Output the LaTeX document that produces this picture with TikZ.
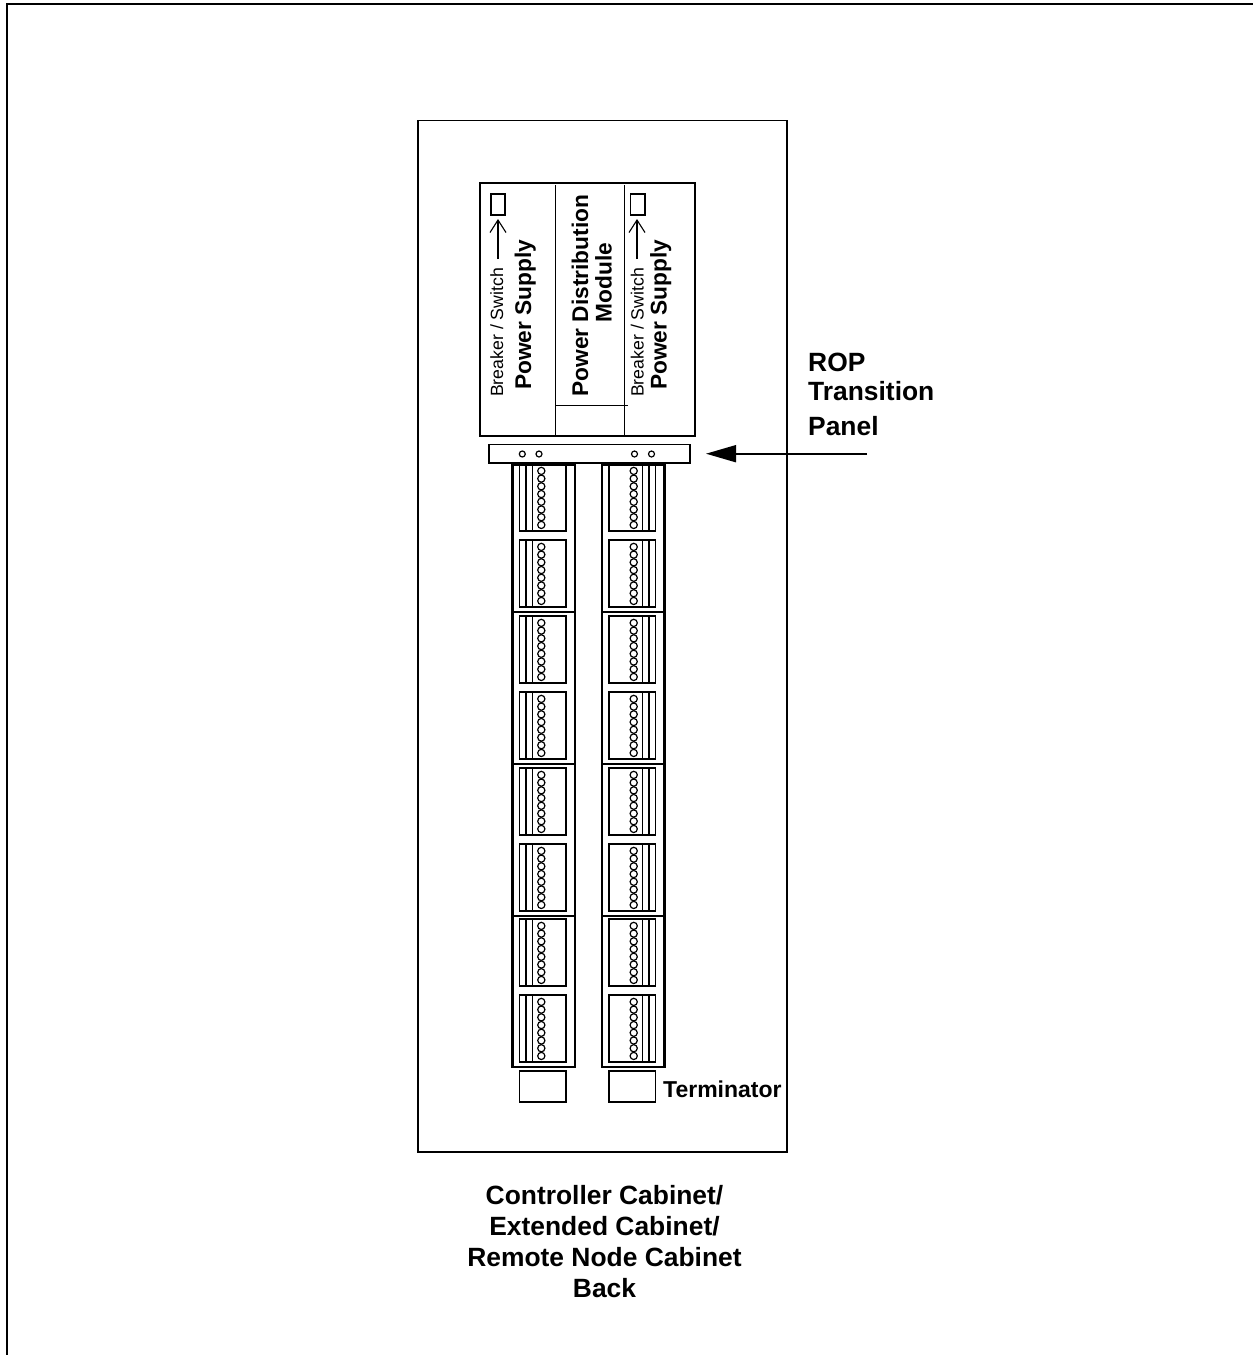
\documentclass[tikz,border=0pt]{standalone}
\usepackage{fontspec}
\setmainfont{Liberation Sans}
\usetikzlibrary{arrows.meta}
\tikzset{
  ln/.style={draw=black,line width=1.3pt},
  thick col/.style={draw=black,line width=2.8pt},
  rt/.style={rotate=90,anchor=base west,inner sep=0pt},
  bigb/.style={font=\fontsize{22.7}{24}\selectfont\bfseries},
  thin lab/.style={font=\fontsize{17.7}{20}\selectfont},
  lab/.style={font=\fontsize{26.4}{28}\selectfont\bfseries,anchor=base west,inner sep=0pt},
  captxt/.style={font=\fontsize{26.4}{28}\selectfont\bfseries,anchor=base,inner sep=0pt},
  ring/.style={draw=black,line width=1.2pt,fill=white}
}
\begin{document}
\begin{tikzpicture}[x=1pt,y=-1pt]
\useasboundingbox (0,0) rectangle (1253,1355);
% sheet frame
\draw[ln,line width=1.7pt] (7,1355) -- (7,4) -- (1253,4);
% cabinet
\draw[ln] (418,120.5) rectangle (787,1152);
% power block
\draw[ln] (480,183) rectangle (695,436);
\draw[ln] (555.5,185) -- (555.5,435);
\draw[ln] (624.5,185) -- (624.5,435);
\draw[ln] (555.5,405.7) -- (628,405.7);
\draw[ln] (491,194) rectangle (505,215);
\draw[ln] (630.5,194) rectangle (645,215);
\coordinate (bsLfrom) at (498,259);
\coordinate (bsLto) at (498,219);
\coordinate (bsRfrom) at (637,259);
\coordinate (bsRto) at (637,219);
\draw[ln,-{Straight Barb[length=12.5pt,width=16pt,line width=1.1pt]}] (bsLfrom) -- (bsLto);
\draw[ln,-{Straight Barb[length=12.5pt,width=16pt,line width=1.1pt]}] (bsRfrom) -- (bsRto);
\node[rt,thin lab] (bsL) at (503,397) {Breaker / Switch};
\node[rt,thin lab] (bsR) at (643.7,397) {Breaker / Switch};
\node[rt,bigb] (psL) at (531,390) {Power Supply};
\node[rt,bigb] (psR) at (666.7,390) {Power Supply};
\node[rt,bigb] (pdm1) at (588,396.7) {Power Distribution};
\node[rt,bigb] (pdm2) at (611.7,322.7) {Module};
% transition panel
\draw[ln] (489,444.5) rectangle (690,463);
\foreach \hx in {522.3,539,634.5,651.5} \draw[ring] (\hx,454) circle (3pt);
% cable columns
\draw[thick col] (512.5,465) rectangle (575,1067);
\draw[thick col] (602,465) rectangle (664.5,1067);
\foreach \dy in {612,764,916} {
  \draw[thick col] (512.5,\dy) -- (575,\dy);
  \draw[thick col] (602,\dy) -- (664.5,\dy);
}
\foreach \my in {464,540,616,692,768,844,919,995} {
  \pgfmathsetmacro{\mb}{\my+67}
  \draw[ln] (519.5,\my) rectangle (566,\mb);
  \draw[ln] (526,\my) -- (526,\mb);
  \draw[ln] (532.7,\my) -- (532.7,\mb);
  \draw[ln] (609,\my) rectangle (655.7,\mb);
  \draw[ln] (642.7,\my) -- (642.7,\mb);
  \draw[ln] (649,\my) -- (649,\mb);
  \foreach \k in {0,...,7} {
    \pgfmathsetmacro{\cy}{\my+6.9+7.72*\k}
    \draw[ring] (541.3,\cy) circle (3.6pt);
    \draw[ring] (633.7,\cy) circle (3.6pt);
  }
}
% re-draw top edges of columns over first modules
\draw[thick col] (512.5,465) -- (575,465);
\draw[thick col] (602,465) -- (664.5,465);
% terminators
\draw[ln] (519.5,1071) rectangle (566,1102);
\draw[ln] (609,1071) rectangle (655.7,1102);
\node[font=\fontsize{23}{24}\selectfont\bfseries,anchor=base west,inner sep=0pt] (term) at (663,1097) {Terminator};
% labels
\node[lab] (rop) at (808,371) {ROP};
\node[lab] (trans) at (808,400) {Transition};
\node[lab] (panel) at (808,435) {Panel};
\coordinate (pfrom) at (867,453.7);
\coordinate (pto) at (706,453.7);
\draw[ln,line width=1.7pt,-{Triangle[length=30pt,width=17pt]}] (pfrom) -- (pto);
% caption
\node[captxt] (c1) at (604.5,1204) {Controller Cabinet/};
\node[captxt] (c2) at (604.5,1235) {Extended Cabinet/};
\node[captxt] (c3) at (604.5,1266) {Remote Node Cabinet};
\node[captxt] (c4) at (604.5,1297) {Back};
\end{tikzpicture}
\end{document}
